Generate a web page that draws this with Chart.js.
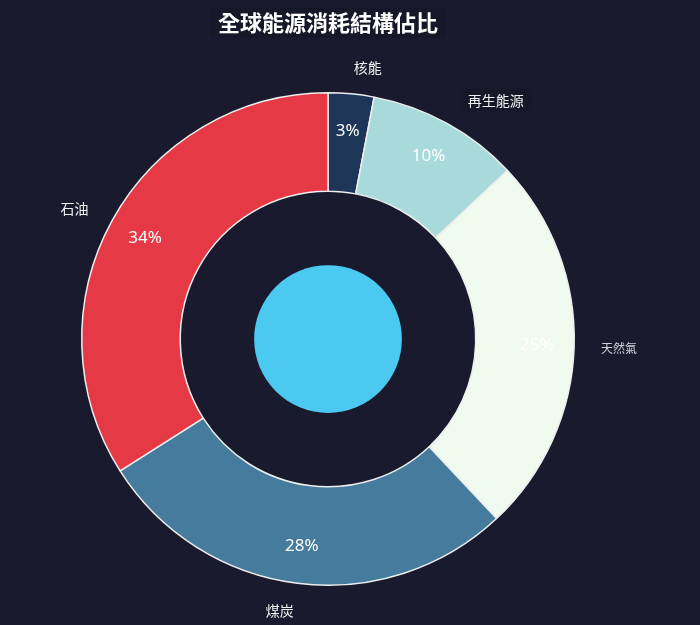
<!DOCTYPE html>
<html lang="zh-TW">
<head>
    <meta charset="utf-8">
    <title>全球能源消耗結構佔比</title>
    <script src="https://cdn.jsdelivr.net/npm/chart.js"></script>
    <style>
        html, body { margin: 0; padding: 0; background: #1a1a2e; }
        canvas { display: block; }
    </style>
</head>
<body>
    <canvas id="energyChart" width="700" height="625"></canvas>

    <script>
        // 資料
        var labels = ['核能', '再生能源', '天然氣', '煤炭', '石油'];
        var shares = [3, 10, 25, 28, 34];
        var colors = ['#1d3557', '#a8dadc', '#f1faee', '#457b9d', '#e63946'];
        var chartTitle = '全球能源消耗結構佔比';

        var cjk = '"Noto Sans CJK TC", "Noto Sans CJK SC", sans-serif';

        // 標題、外圍標籤、百分比、中心圓
        var decorPlugin = {
            id: 'decor',
            afterDatasetsDraw: function(chart) {
                var ctx = chart.ctx;
                var meta = chart.getDatasetMeta(0);
                var first = meta.data[0];
                var cx = first.x, cy = first.y;
                var outer = first.outerRadius, inner = first.innerRadius;
                var total = shares.reduce(function(a, b) { return a + b; }, 0);

                ctx.save();

                // 中心圓
                ctx.beginPath();
                ctx.arc(cx, cy, inner * 0.5, 0, Math.PI * 2);
                ctx.fillStyle = '#4cc9f0';
                ctx.fill();

                meta.data.forEach(function(arc, i) {
                    var mid = (arc.startAngle + arc.endAngle) / 2;
                    var cos = Math.cos(mid), sin = Math.sin(mid);

                    // 百分比
                    var pr = inner + (outer - inner) * 0.62;
                    ctx.font = '17px "Noto Sans", "Open Sans", sans-serif';
                    ctx.fillStyle = '#ffffff';
                    ctx.textAlign = 'center';
                    ctx.textBaseline = 'middle';
                    ctx.fillText(Math.round(shares[i] / total * 100) + '%', cx + cos * pr, cy + sin * pr);

                    // 外圍標籤
                    var lr = outer + 27;
                    var lx = cx + cos * lr, ly = cy + sin * lr;
                    var small = labels[i] === '天然氣';
                    ctx.font = (small ? '12px ' : '14px ') + cjk;
                    ctx.textAlign = lx >= cx ? 'left' : 'right';
                    if (labels[i] === '再生能源') {
                        var w = ctx.measureText(labels[i]).width;
                        ctx.fillStyle = 'rgba(12, 12, 32, 0.22)';
                        ctx.fillRect(lx, ly - 11, w + 16, 22);
                        lx += 8;
                    }
                    ctx.fillStyle = small ? '#cfcfd8' : '#f0f0f0';
                    ctx.fillText(labels[i], lx, ly + 1);
                });

                // 標題
                ctx.font = 'bold 22px ' + cjk;
                ctx.textAlign = 'center';
                ctx.textBaseline = 'middle';
                var tw = ctx.measureText(chartTitle).width;
                ctx.fillStyle = 'rgba(12, 12, 32, 0.22)';
                ctx.fillRect(cx - tw / 2 - 8, 8, tw + 16, 30);
                ctx.fillStyle = '#ffffff';
                ctx.fillText(chartTitle, cx, 23);

                ctx.restore();
            }
        };

        var ctx = document.getElementById('energyChart').getContext('2d');
        var energyChart = new Chart(ctx, {
            type: 'doughnut',
            data: {
                labels: labels,
                datasets: [{
                    data: shares,
                    backgroundColor: colors,
                    borderColor: '#eeeeee',
                    borderWidth: 1.5,
                    hoverOffset: 0
                }]
            },
            options: {
                responsive: false,
                animation: false,
                cutout: '60%',
                layout: {
                    padding: { top: 92, bottom: 39, left: 81, right: 125 }
                },
                plugins: {
                    legend: { display: false },
                    title: { display: false },
                    tooltip: { enabled: false }
                }
            },
            plugins: [decorPlugin]
        });
    </script>
</body>
</html>
